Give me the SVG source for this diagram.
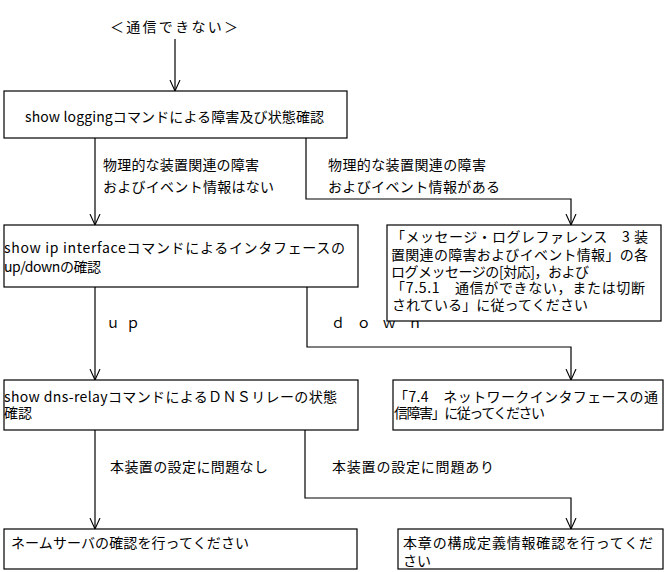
<svg xmlns="http://www.w3.org/2000/svg" width="665" height="572" viewBox="0 0 665 572">
<style>
text{font-family:"Noto Sans CJK JP","Noto Sans CJK SC",sans-serif;font-size:14px;fill:#000}
.box{fill:#fff;stroke:#000;stroke-width:1.2}
.ln{fill:none;stroke:#000;stroke-width:1.2}
</style>
<defs>
<marker id="ah" viewBox="0 0 12 12" refX="11" refY="6" markerWidth="12" markerHeight="12" markerUnits="userSpaceOnUse" orient="auto">
<path d="M0,1 L11,6 L0,11" fill="none" stroke="#000" stroke-width="1.1"/>
</marker>
</defs>
<rect width="665" height="572" fill="#fff"/>
<text id="title" x="110" y="32" font-size="15" textLength="128" lengthAdjust="spacing">＜通信できない＞</text>
<g id="connectors">
<path class="ln" d="M175,39 V91" marker-end="url(#ah)"/>
<path class="ln" d="M95,138 V225" marker-end="url(#ah)"/>
<path class="ln" d="M306,138 V199 H571 V225" marker-end="url(#ah)"/>
<path class="ln" d="M95,287 V380" marker-end="url(#ah)"/>
<path class="ln" d="M307,287 V347 H571 V380" marker-end="url(#ah)"/>
<path class="ln" d="M95,430 V529" marker-end="url(#ah)"/>
<path class="ln" d="M305,430 V498 H571 V529" marker-end="url(#ah)"/>
</g>
<g id="labels">
<text x="103" y="170" textLength="156" lengthAdjust="spacing">物理的な装置関連の障害</text>
<text x="103" y="192" textLength="171" lengthAdjust="spacing">およびイベント情報はない</text>
<text x="328" y="170" textLength="158" lengthAdjust="spacing">物理的な装置関連の障害</text>
<text x="328" y="192" textLength="172" lengthAdjust="spacing">およびイベント情報がある</text>
<text x="106" y="328" textLength="34" lengthAdjust="spacing">ｕｐ</text>
<text x="331" y="328" textLength="91" lengthAdjust="spacing">ｄｏｗｎ</text>
<text x="110" y="472" textLength="158" lengthAdjust="spacing">本装置の設定に問題なし</text>
<text x="332" y="472" textLength="162" lengthAdjust="spacing">本装置の設定に問題あり</text>
</g>
<g id="node1">
<rect class="box" x="4" y="91" width="343" height="47"/>
<text x="25" y="122" textLength="299" lengthAdjust="spacing">show loggingコマンドによる障害及び状態確認</text>
</g>
<g id="node2">
<rect class="box" x="4" y="225" width="354" height="62"/>
<text x="4" y="253" textLength="341" lengthAdjust="spacing">show ip interfaceコマンドによるインタフェースの</text>
<text x="4" y="272" textLength="97" lengthAdjust="spacing">up/downの確認</text>
</g>
<g id="node3">
<rect class="box" x="387" y="225" width="274" height="96"/>
<text x="391" y="242" textLength="257" lengthAdjust="spacing">「メッセージ・ログレファレンス　3 装</text>
<text x="391" y="260" textLength="257" lengthAdjust="spacing">置関連の障害およびイベント情報」の各</text>
<text x="391" y="277" textLength="198" lengthAdjust="spacing">ログメッセージの[対応]，および</text>
<text x="391" y="293" textLength="254" lengthAdjust="spacing">「7.5.1　通信ができない，または切断</text>
<text x="392" y="310" textLength="196" lengthAdjust="spacing">されている」に従ってください</text>
</g>
<g id="node4">
<rect class="box" x="4" y="380" width="354" height="50"/>
<text x="4" y="402" textLength="333" lengthAdjust="spacing">show dns-relayコマンドによるＤＮＳリレーの状態</text>
<text x="4" y="418" font-size="15">確認</text>
</g>
<g id="node5">
<rect class="box" x="393" y="380" width="270" height="50"/>
<text x="394" y="402" textLength="264" lengthAdjust="spacing">「7.4　ネットワークインタフェースの通</text>
<text x="394" y="418" textLength="151" lengthAdjust="spacing">信障害」に従ってください</text>
</g>
<g id="node6">
<rect class="box" x="4" y="529" width="353" height="40"/>
<text x="11" y="548" textLength="238" lengthAdjust="spacing">ネームサーバの確認を行ってください</text>
</g>
<g id="node7">
<rect class="box" x="398" y="529" width="265" height="40"/>
<text x="403" y="548" textLength="250" lengthAdjust="spacing">本章の構成定義情報確認を行ってくだ</text>
<text x="403" y="566">さい</text>
</g>
</svg>
